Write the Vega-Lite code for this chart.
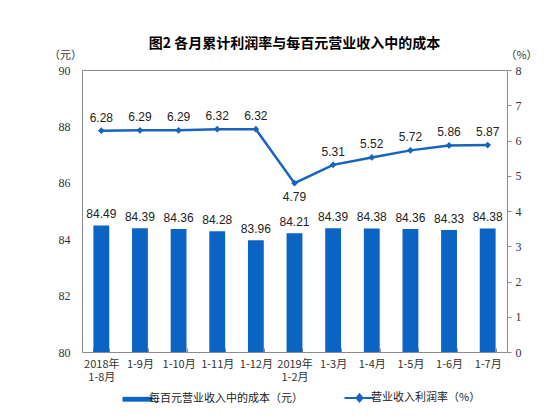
{
  "$schema": "https://vega.github.io/schema/vega-lite/v6.json",
  "width": 425,
  "height": 282,
  "autosize": {"type": "none"},
  "padding": {"left": 82, "top": 70, "right": 43, "bottom": 68},
  "title": {
    "text": "图2 各月累计利润率与每百元营业收入中的成本",
    "font": "Noto Sans CJK SC",
    "fontSize": 14,
    "fontWeight": "bold",
    "color": "#000",
    "anchor": "middle",
    "frame": "group",
    "offset": -2
  },
  "config": {
    "view": {"stroke": "#8c8c8c", "strokeWidth": 1},
    "axis": {"grid": false, "domain": false}
  },
  "data": {
    "values": [
      {"period": "2018年1-8月", "cost": 84.49, "rate": 6.28},
      {"period": "1-9月", "cost": 84.39, "rate": 6.29},
      {"period": "1-10月", "cost": 84.36, "rate": 6.29},
      {"period": "1-11月", "cost": 84.28, "rate": 6.32},
      {"period": "1-12月", "cost": 83.96, "rate": 6.32},
      {"period": "2019年1-2月", "cost": 84.21, "rate": 4.79},
      {"period": "1-3月", "cost": 84.39, "rate": 5.31},
      {"period": "1-4月", "cost": 84.38, "rate": 5.52},
      {"period": "1-5月", "cost": 84.36, "rate": 5.72},
      {"period": "1-6月", "cost": 84.33, "rate": 5.86},
      {"period": "1-7月", "cost": 84.38, "rate": 5.87}
    ]
  },
  "encoding": {
    "x": {
      "field": "period",
      "type": "nominal",
      "sort": null,
      "scale": {"paddingInner": 0.59, "paddingOuter": 0.295},
      "axis": {
        "title": null,
        "labelAngle": 0,
        "tickBand": "extent",
        "tickSize": -4,
        "tickColor": "#8c8c8c",
        "labelPadding": 10,
        "labelFont": "Noto Sans CJK SC",
        "labelFontSize": 11,
        "labelColor": "#333",
        "labelLineHeight": 13,
        "labelExpr": "datum.value == '2018年1-8月' ? ['2018年', '1-8月'] : datum.value == '2019年1-2月' ? ['2019年', '1-2月'] : datum.label"
      }
    }
  },
  "layer": [
    {
      "encoding": {
        "y": {
          "field": "cost",
          "type": "quantitative",
          "scale": {"domain": [80, 90], "zero": false},
          "axis": {
            "orient": "left",
            "values": [80, 82, 84, 86, 88, 90],
            "ticks": false,
            "labelPadding": 12,
            "labelFont": "Liberation Serif",
            "labelFontSize": 12,
            "labelColor": "#333",
            "title": "（元）",
            "titleFont": "Noto Sans CJK SC",
            "titleFontSize": 11,
            "titleFontWeight": "normal",
            "titleColor": "#333",
            "titleAngle": 0,
            "titleAlign": "center",
            "titleBaseline": "middle",
            "titleX": -17,
            "titleY": -15
          }
        }
      },
      "layer": [
        {
          "mark": {"type": "bar", "clip": true},
          "encoding": {
            "y2": {"datum": 80},
            "color": {
              "datum": "每百元营业收入中的成本（元）",
              "scale": {
                "domain": ["每百元营业收入中的成本（元）", "营业收入利润率（%）"],
                "range": ["#0B63C4", "#1565C0"]
              },
              "legend": {
                "orient": "none",
                "legendX": 53,
                "legendY": 322,
                "direction": "horizontal",
                "title": null,
                "labelFont": "Noto Sans CJK SC",
                "labelFontSize": 11,
                "labelColor": "#222",
                "labelOffset": 3,
                "symbolSize": 576,
                "columnPadding": 37,
                "labelLimit": 300,
                "encode": {
                  "symbols": {
                    "update": {
                      "shape": {"signal": "datum.value == '营业收入利润率（%）' ? 'M-1.5,0H1M-0.25,-0.3L0,0L-0.25,0.3L-0.5,0Z' : 'M-1.5,-0.2H1V0.2H-1.5Z'"},
                      "fill": {"scale": "color", "field": "value"},
                      "stroke": {"scale": "color", "field": "value"},
                      "strokeWidth": {"signal": "datum.value == '营业收入利润率（%）' ? 2 : 0"},
                      "opacity": {"value": 1},
                      "fillOpacity": {"value": 1}
                    }
                  }
                }
              }
            }
          }
        },
        {
          "mark": {
            "type": "text",
            "baseline": "middle",
            "dy": -11,
            "font": "Liberation Sans",
            "fontSize": 12,
            "color": "#222"
          },
          "encoding": {"text": {"field": "cost", "type": "quantitative", "format": ".2f"}}
        }
      ]
    },
    {
      "encoding": {
        "y": {
          "field": "rate",
          "type": "quantitative",
          "scale": {"domain": [0, 8]},
          "axis": {
            "orient": "right",
            "values": [0, 1, 2, 3, 4, 5, 6, 7, 8],
            "ticks": true,
            "tickSize": 4,
            "tickColor": "#8c8c8c",
            "labelPadding": 4,
            "labelFont": "Liberation Serif",
            "labelFontSize": 12,
            "labelColor": "#333",
            "title": "（%）",
            "titleFont": "Noto Sans CJK SC",
            "titleFontSize": 11,
            "titleFontWeight": "normal",
            "titleColor": "#333",
            "titleAngle": 0,
            "titleAlign": "center",
            "titleBaseline": "middle",
            "titleX": 14,
            "titleY": -15
          }
        }
      },
      "layer": [
        {
          "mark": {
            "type": "line",
            "strokeWidth": 2.5,
            "point": {"shape": "diamond", "size": 45, "filled": true}
          },
          "encoding": {"color": {"datum": "营业收入利润率（%）"}}
        },
        {
          "transform": [{"filter": "datum.rate >= 5"}],
          "mark": {
            "type": "text",
            "baseline": "middle",
            "dy": -13,
            "font": "Liberation Sans",
            "fontSize": 12,
            "color": "#222"
          },
          "encoding": {"text": {"field": "rate", "type": "quantitative", "format": ".2f"}}
        },
        {
          "transform": [{"filter": "datum.rate < 5"}],
          "mark": {
            "type": "text",
            "baseline": "middle",
            "dy": 14,
            "font": "Liberation Sans",
            "fontSize": 12,
            "color": "#222"
          },
          "encoding": {"text": {"field": "rate", "type": "quantitative", "format": ".2f"}}
        }
      ]
    }
  ],
  "resolve": {"scale": {"y": "independent"}}
}
